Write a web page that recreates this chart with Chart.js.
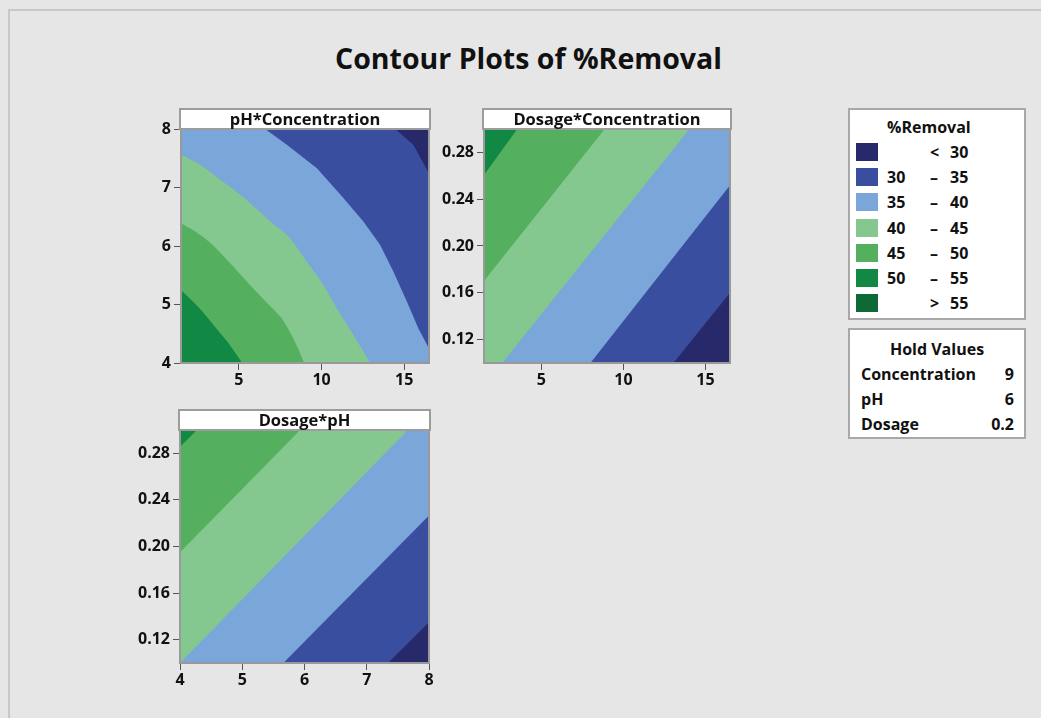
<!DOCTYPE html>
<html lang="en">
<head>
<meta charset="UTF-8">
<title>Contour Plots of %Removal</title>
<script src="https://cdn.jsdelivr.net/npm/chart.js"></script>
<style>
  body {
    margin: 0;
    background: #e6e6e6;
    font-family: "Open Sans", sans-serif;
    color: #111;
  }
  #page { position: relative; width: 1041px; height: 718px; overflow: hidden; }
  .frame {
    position: absolute; left: 8px; top: 9px; right: -4px; bottom: -4px;
    border-left: 2px solid #c8c8c8; border-top: 2px solid #c8c8c8;
  }
  h1 {
    position: absolute; left: 8px; top: 41px; width: 1041px; margin: 0;
    text-align: center; font-size: 28.5px; font-weight: 700; line-height: 34px;
  }
  canvas { position: absolute; }
  .head {
    position: absolute; background: #fff; border: 2px solid #9c9c9c; box-sizing: border-box;
    text-align: center; font-weight: 700; font-size: 16.5px; line-height: 18px;
  }
  .box {
    position: absolute; background: #fff; border: 2px solid #a8a8a8; box-sizing: border-box;
    font-weight: 700; font-size: 16px;
  }
  .box div { position: absolute; line-height: 20px; white-space: nowrap; }
  .sw { width: 22px; height: 18px; }
</style>
</head>
<body>
<div id="page">
  <div class="frame"></div>
  <h1>Contour Plots of %Removal</h1>

  <canvas id="p1" width="308" height="278" style="left:131px;top:115px"></canvas>
  <canvas id="p2" width="306" height="278" style="left:434px;top:115px"></canvas>
  <canvas id="p3" width="309" height="277" style="left:130px;top:416px"></canvas>

  <div class="head" style="left:179px;top:108px;width:252px;height:22px">pH*Concentration</div>
  <div class="head" style="left:482px;top:108px;width:250px;height:22px">Dosage*Concentration</div>
  <div class="head" style="left:178px;top:409px;width:253px;height:22px">Dosage*pH</div>

  <div class="box" id="legend" style="left:848px;top:108px;width:178px;height:212px"></div>
  <div class="box" id="hold" style="left:848px;top:328px;width:178px;height:111px"></div>
</div>

<script>
  // legend bands of %Removal
  const bandFrom = ['', '30', '35', '40', '45', '50', ''];
  const bandSep = ['<', '–', '–', '–', '–', '–', '>'];
  const bandTo = ['30', '35', '40', '45', '50', '55', '55'];
  const bandColors = ['#27296b', '#3a4e9f', '#7aa6da', '#85c88f', '#54b05f', '#118843', '#0e6a35'];

  const holdNames = ['Concentration', 'pH', 'Dosage'];
  const holdVals = ['9', '6', '0.2'];

  // axis ranges and ticks
  const concRange = [1.5, 16.5];
  const phRange = [4, 8];
  const dosageRange = [0.1, 0.3];
  const concTicks = [5, 10, 15];
  const phTicks = [4, 5, 6, 7, 8];
  const dosageTicks = [0.12, 0.16, 0.20, 0.24, 0.28];

  // contour lines at 30, 35, 40, 45, 50, [x, y]
  const phConc30 = [[14.45, 8], [15.55, 7.73], [16.5, 7.24]];
  const phConc35 = [[6.59, 8], [7.9, 7.73], [9.72, 7.33], [11.32, 6.82], [12.53, 6.42], [13.54, 6.02],
                    [14.35, 5.56], [15.16, 5.05], [15.86, 4.59], [16.5, 4.25]];
  const phConc40 = [[1.5, 7.56], [2.54, 7.41], [3.75, 7.16], [4.7, 6.96], [5.69, 6.73], [6.9, 6.42],
                    [8.1, 6.13], [9.11, 5.73], [10.12, 5.33], [10.93, 4.93], [11.93, 4.48], [12.94, 4.0]];
  const phConc45 = [[1.5, 6.39], [2.3, 6.26], [3.25, 6.06], [4.56, 5.68], [5.69, 5.33], [6.8, 5.0],
                    [7.7, 4.72], [8.5, 4.3], [8.95, 4.0]];
  const phConc50 = [[1.5, 5.25], [2.54, 4.96], [3.55, 4.62], [4.36, 4.34], [5.2, 4.0]];

  const dosConc30 = [[13.05, 0.10], [16.5, 0.160]];
  const dosConc35 = [[7.99, 0.10], [16.5, 0.252]];
  const dosConc40 = [[2.61, 0.10], [14.03, 0.30]];
  const dosConc45 = [[1.5, 0.170], [8.86, 0.30]];
  const dosConc50 = [[1.5, 0.2606], [3.53, 0.30]];

  const dosPh30 = [[7.34, 0.10], [8, 0.135]];
  const dosPh35 = [[5.66, 0.10], [8, 0.2266]];
  const dosPh40 = [[4, 0.10], [7.66, 0.30]];
  const dosPh45 = [[4, 0.195], [5.93, 0.30]];
  const dosPh50 = [[4, 0.2856], [4.27, 0.30]];

  const font = { family: "'Open Sans', sans-serif", size: 16, weight: 'bold' };

  // each contour line is filled towards the low side of the panel, stacked from the lowest band up
  function layers(lines, xr, edgeY, fillTo) {
    const all = [[[xr[0], edgeY], [xr[1], edgeY]]].concat(lines);
    return all.map((line, i) => {
      const pts = line.map(p => ({ x: p[0], y: p[1] }));
      let along = false;
      if (pts[0].y === edgeY && pts[0].x > xr[0]) {
        pts.unshift({ x: xr[0], y: edgeY });
        along = true;
      }
      return {
        data: pts,
        fill: fillTo,
        backgroundColor: bandColors[i],
        borderColor: 'transparent',
        borderWidth: 0,
        pointRadius: 0,
        tension: 0,
        cubicInterpolationMode: along ? 'default' : 'monotone',
        order: 20 - i
      };
    });
  }

  const outline = {
    id: 'outline',
    afterDatasetsDraw(chart) {
      const a = chart.chartArea, ctx = chart.ctx;
      ctx.save();
      ctx.strokeStyle = '#999';
      ctx.lineWidth = 2;
      ctx.strokeRect(a.left, a.top, a.right - a.left, a.bottom - a.top);
      ctx.restore();
    }
  };

  function makePanel(id, datasets, xr, xt, yr, yt, yFmt) {
    return new Chart(document.getElementById(id), {
      type: 'line',
      data: { datasets: datasets },
      options: {
        responsive: false,
        animation: false,
        events: [],
        layout: { padding: { top: 14, right: 10, left: 0, bottom: 0 } },
        plugins: { legend: { display: false }, tooltip: { enabled: false } },
        scales: {
          x: {
            type: 'linear', min: xr[0], max: xr[1],
            afterBuildTicks: s => { s.ticks = xt.map(v => ({ value: v })); },
            afterFit: s => { s.height = 30; },
            grid: { drawOnChartArea: false, tickLength: 7, color: '#555' },
            border: { display: false },
            ticks: { font: font, color: '#111', padding: 1, maxRotation: 0 }
          },
          y: {
            type: 'linear', min: yr[0], max: yr[1],
            afterBuildTicks: s => { s.ticks = yt.map(v => ({ value: v })); },
            afterFit: s => { s.width = 50; },
            grid: { drawOnChartArea: false, tickLength: 7, color: '#555' },
            border: { display: false },
            ticks: { font: font, color: '#111', padding: 3, callback: yFmt }
          }
        }
      },
      plugins: [outline]
    });
  }

  makePanel('p1', layers([phConc30, phConc35, phConc40, phConc45, phConc50], concRange, phRange[1], 'start'),
    concRange, concTicks, phRange, phTicks, v => v);
  makePanel('p2', layers([dosConc30, dosConc35, dosConc40, dosConc45, dosConc50], concRange, dosageRange[0], 'end'),
    concRange, concTicks, dosageRange, dosageTicks, v => v.toFixed(2));
  makePanel('p3', layers([dosPh30, dosPh35, dosPh40, dosPh45, dosPh50], phRange, dosageRange[0], 'end'),
    phRange, phTicks, dosageRange, dosageTicks, v => v.toFixed(2));

  // legend boxes
  const legend = document.getElementById('legend');
  let html = '<div style="left:37px;top:7px">%Removal</div>';
  bandColors.forEach((c, i) => {
    const top = 33 + i * 25.2;
    html += '<div class="sw" style="left:6px;top:' + top + 'px;background:' + c + '"></div>';
    html += '<div style="left:37px;top:' + (top - 1) + 'px">' + bandFrom[i] + '</div>';
    html += '<div style="left:80px;top:' + (top - 1) + 'px">' + bandSep[i] + '</div>';
    html += '<div style="left:100px;top:' + (top - 1) + 'px">' + bandTo[i] + '</div>';
  });
  legend.innerHTML = html;

  const hold = document.getElementById('hold');
  html = '<div style="left:0;width:174px;text-align:center;top:9px">Hold Values</div>';
  holdNames.forEach((n, i) => {
    const top = 34 + i * 25;
    html += '<div style="left:11px;top:' + top + 'px">' + n + '</div>';
    html += '<div style="right:10px;top:' + top + 'px">' + holdVals[i] + '</div>';
  });
  hold.innerHTML = html;
</script>
</body>
</html>
